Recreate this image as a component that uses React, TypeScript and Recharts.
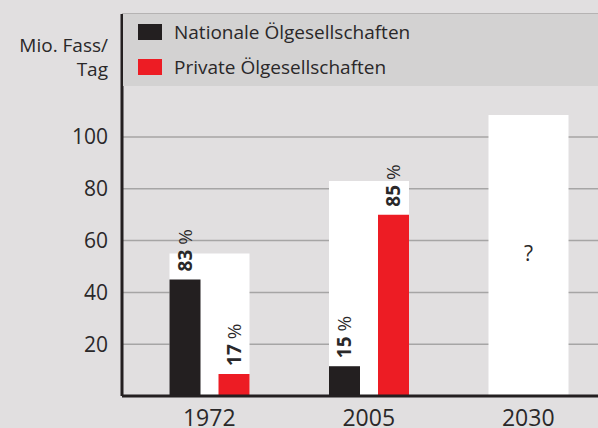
import React from "react";
import {
  BarChart,
  Bar,
  XAxis,
  YAxis,
  CartesianGrid,
  Legend,
  LabelList,
  Label,
} from "recharts";

const years = ["1972", "2005", "2030"];
const totalProduction = [55, 83, 108.5];
const nationalProduction: (number | null)[] = [45, 11.5, null];
const privateProduction: (number | null)[] = [8.5, 70, null];
const nationalShare = ["83", "15", ""];
const privateShare = ["17", "85", ""];
const totalNotes = ["", "", "?"];
const yTicks = [20, 40, 60, 80, 100];
const seriesNames = ["Nationale Ölgesellschaften", "Private Ölgesellschaften"];
const yTitle = ["Mio. Fass/", "Tag"];

const FONT = "'Open Sans', 'Noto Sans', sans-serif";
const TEXT = "#2a2829";
const BLACK = "#231f20";
const RED = "#ed1c24";
const BG = "#e1dfe0";
const LEGEND_BG = "#d3d2d2";

const data = years.map((year, i) => ({
  year,
  total: totalProduction[i],
  national: nationalProduction[i],
  private: privateProduction[i],
}));

const getBox = (props: any) => {
  const vb = props.viewBox || props;
  return {
    x: vb.x ?? props.x,
    y: vb.y ?? props.y,
    width: vb.width ?? props.width,
    height: vb.height ?? props.height,
  };
};

const makeShareLabel = (shares: string[]) => (props: any) => {
  const { x, y, width } = getBox(props);
  const idx = props.index;
  const s = shares[idx];
  if (!s || x == null) return null;
  const cx = x + width / 2 + 7;
  const sy = y - 8;
  return (
    <text
      x={cx}
      y={sy}
      transform={`rotate(-90 ${cx} ${sy})`}
      textAnchor="start"
      fontFamily={FONT}
      fontSize={19}
      fill={TEXT}
    >
      <tspan fontWeight="bold">{s}</tspan>
      <tspan> %</tspan>
    </text>
  );
};

const renderNote = (props: any) => {
  const { x, y, width, height } = getBox(props);
  const note = totalNotes[props.index];
  if (!note || x == null) return null;
  return (
    <text
      x={x + width / 2}
      y={y + height / 2 - 3}
      textAnchor="middle"
      dominantBaseline="central"
      fontFamily={FONT}
      fontSize={21}
      fill={TEXT}
    >
      {note}
    </text>
  );
};

const renderTitle = (props: any) => {
  const vb = props.viewBox || { x: 0, y: 14, width: 122, height: 382 };
  const xr = vb.x + vb.width - 14;
  return (
    <text textAnchor="end" fontFamily={FONT} fontSize={19} fill={TEXT}>
      <tspan x={xr} y={vb.y + 38}>
        {yTitle[0]}
      </tspan>
      <tspan x={xr} y={vb.y + 62}>
        {yTitle[1]}
      </tspan>
    </text>
  );
};

const legendColors = [BLACK, RED];

const renderLegend = () => (
  <div
    style={{
      position: "relative",
      width: 475,
      height: 72,
      background: LEGEND_BG,
      fontFamily: FONT,
      fontSize: 19,
      color: TEXT,
    }}
  >
    {seriesNames.map((name, i) => (
      <div
        key={name}
        style={{
          position: "absolute",
          left: 15,
          top: 10 + i * 35,
          height: 16,
          display: "flex",
          alignItems: "center",
          whiteSpace: "nowrap",
        }}
      >
        <span
          style={{
            display: "inline-block",
            width: 24,
            height: 16,
            background: legendColors[i],
            marginRight: 12,
          }}
        />
        <span style={{ lineHeight: "16px" }}>{name}</span>
      </div>
    ))}
  </div>
);

export default function App() {
  return (
    <div
      style={{
        position: "fixed",
        left: 0,
        top: 0,
        width: 598,
        height: 428,
        overflow: "hidden",
        background: BG,
      }}
    >
      <BarChart
        width={620}
        height={428}
        data={data}
        margin={{ top: 14, right: 12, bottom: 0, left: 0 }}
        barGap={18}
      >
        <CartesianGrid
          horizontal
          vertical={false}
          stroke="#a6a5a5"
          strokeWidth={1.5}
        />
        <XAxis
          xAxisId="main"
          dataKey="year"
          height={32}
          padding={{ left: 7.5, right: 0 }}
          axisLine={{ stroke: BLACK, strokeWidth: 3 }}
          tickLine={false}
          tickSize={0}
          tickMargin={14}
          tick={{ fontFamily: FONT, fontSize: 23, fill: TEXT }}
        />
        <XAxis
          xAxisId="bg"
          dataKey="year"
          hide
          orientation="top"
          height={0}
          padding={{ left: 7.5, right: 0 }}
        />
        <YAxis
          width={122}
          domain={[0, 147.5]}
          ticks={yTicks}
          interval={0}
          allowDataOverflow
          axisLine={{ stroke: BLACK, strokeWidth: 3 }}
          tickLine={false}
          tickSize={0}
          tickMargin={14}
          tick={{ fontFamily: FONT, fontSize: 21, fill: TEXT }}
        >
          <Label content={renderTitle} />
        </YAxis>
        <Legend
          layout="vertical"
          align="center"
          verticalAlign="middle"
          content={renderLegend}
          wrapperStyle={{ left: 123, top: 14, width: 475, height: 72 }}
        />
        <Bar
          xAxisId="bg"
          dataKey="total"
          fill="#ffffff"
          barSize={80}
          legendType="none"
          isAnimationActive={false}
        >
          <LabelList dataKey="total" content={renderNote} />
        </Bar>
        <Bar
          xAxisId="main"
          dataKey="national"
          name={seriesNames[0]}
          fill={BLACK}
          barSize={31}
          isAnimationActive={false}
        >
          <LabelList dataKey="national" content={makeShareLabel(nationalShare)} />
        </Bar>
        <Bar
          xAxisId="main"
          dataKey="private"
          name={seriesNames[1]}
          fill={RED}
          barSize={31}
          isAnimationActive={false}
        >
          <LabelList dataKey="private" content={makeShareLabel(privateShare)} />
        </Bar>
      </BarChart>
    </div>
  );
}
